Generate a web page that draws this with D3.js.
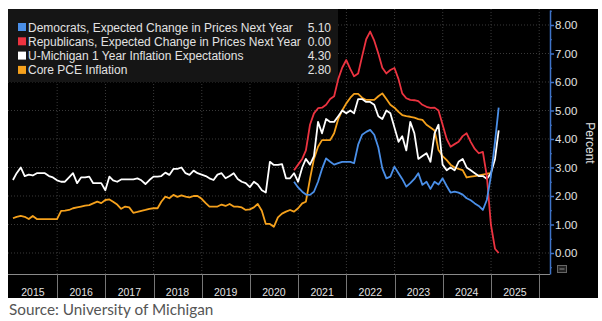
<!DOCTYPE html>
<html>
<head>
<meta charset="utf-8">
<script src="https://cdn.jsdelivr.net/npm/d3@7"></script>
<style>
  body { margin:0; background:#fff; }
  svg { display:block; font-family:"Liberation Sans", Arial, sans-serif; }
</style>
</head>
<body>
<svg width="602" height="321"></svg>
<script>

// monthly readings, first value = Jan 2015
const umich = [
  2.56, 2.8, 3.0, 2.7, 2.75, 2.72, 2.8, 2.8, 2.8, 2.7, 2.65, 2.55,      // 2015
  2.5, 2.5, 2.65, 2.8, 2.45, 2.65, 2.65, 2.68, 2.45, 2.45, 2.45, 2.2,    // 2016
  2.68, 2.55, 2.5, 2.58, 2.58, 2.58, 2.58, 2.62, 2.55, 2.42, 2.56, 2.68, // 2017
  2.68, 2.7, 2.82, 2.74, 2.95, 2.95, 3.0, 2.8, 2.74, 2.89, 2.8, 2.75,    // 2018
  2.7, 2.62, 2.56, 2.75, 2.8, 2.62, 2.7, 2.8, 2.6, 2.5, 2.45, 2.31,      // 2019
  2.5, 2.4, 2.2, 2.12, 3.2, 3.09, 3.09, 3.12, 2.62, 2.62, 2.8, 2.5,      // 2020
  3.0, 3.3, 3.1, 3.4, 4.6, 4.2, 4.7, 4.6, 4.6, 4.8, 5.0, 4.9,            // 2021
  5.0, 4.9, 5.4, 5.4, 5.3, 5.3, 5.2, 4.8, 4.7, 5.0, 4.9, 4.4,            // 2022
  3.9, 4.1, 3.6, 4.6, 4.2, 3.3, 3.4, 3.5, 3.2, 4.2, 4.5, 3.1,            // 2023
  2.9, 3.0, 2.9, 3.2, 3.3, 3.0, 2.9, 2.8, 2.7, 2.7, 2.6, 2.8,            // 2024
  3.3, 4.3                                                              // 2025
];

const corePce = [
  1.22, 1.27, 1.3, 1.27, 1.19, 1.3, 1.19, 1.19, 1.19, 1.19, 1.19, 1.19,  // 2015
  1.48, 1.49, 1.51, 1.57, 1.6, 1.63, 1.66, 1.68, 1.74, 1.8, 1.75, 1.86,  // 2016
  1.88, 1.8, 1.7, 1.55, 1.63, 1.6, 1.41, 1.44, 1.48, 1.51, 1.55, 1.57,   // 2017
  1.57, 1.8, 1.98, 1.92, 2.04, 1.97, 2.02, 1.98, 1.95, 2.0, 2.0, 1.9,    // 2018
  1.75, 1.63, 1.63, 1.63, 1.7, 1.65, 1.72, 1.63, 1.63, 1.6, 1.51, 1.53,  // 2019
  1.6, 1.72, 1.48, 1.02, 1.02, 0.92, 1.25, 1.38, 1.45, 1.51, 1.45, 1.57, // 2020
  1.74, 1.8, 2.6, 3.3, 3.73, 3.96, 3.96, 3.96, 4.2, 4.7, 5.0, 5.25,      // 2021
  5.45, 5.58, 5.58, 5.45, 5.37, 5.37, 5.37, 5.5, 5.6, 5.4, 5.2, 5.1,     // 2022
  4.95, 4.84, 4.8, 4.78, 4.75, 4.7, 4.67, 4.5, 4.4, 4.3, 3.61, 3.4,      // 2023
  3.26, 3.1, 3.0, 2.95, 2.91, 2.65, 2.68, 2.7, 2.72, 2.75, 2.78, 2.8     // 2024
];

// partisan readings start Nov 2020 (month 70)
const partisanStart = 70;
const democrats = [
  2.5, 2.3,                                                             // 2020
  2.15, 2.05, 2.04, 2.15, 2.5, 2.95, 3.32, 3.2, 3.1, 3.15, 3.2, 3.2,     // 2021
  3.2, 3.15, 3.8, 4.15, 4.25, 4.32, 4.15, 3.7, 2.97, 2.62, 2.68, 3.03,   // 2022
  2.8, 2.6, 2.33, 2.45, 2.6, 2.8, 2.39, 2.5, 2.25, 2.5, 2.4, 2.62,       // 2023
  2.35, 2.12, 2.15, 2.12, 2.05, 1.92, 1.85, 1.74, 1.65, 1.51, 1.86, 2.7, // 2024
  3.9, 5.1                                                              // 2025
];
const republicans = [
  2.9, 3.1,                                                             // 2020
  3.3, 3.6, 4.5, 4.9, 5.08, 5.1, 5.2, 5.4, 5.5, 6.1, 6.5, 6.77,          // 2021
  6.45, 6.2, 6.3, 6.9, 7.5, 7.77, 7.45, 7.0, 6.5, 6.3, 6.42, 6.49,       // 2022
  6.1, 5.6, 5.43, 5.37, 5.36, 5.33, 5.2, 5.13, 5.09, 5.1, 5.0, 4.5,      // 2023
  4.0, 3.73, 3.82, 3.9, 4.1, 4.2, 3.9, 3.65, 3.5, 3.55, 2.7, 1.0,        // 2024
  0.15, 0.0                                                             // 2025
];

const years = d3.range(2015, 2026);
const yTicks = d3.range(0, 9);
const yMinor = d3.range(-0.5, 9, 1);

const series = [
  {label:'Democrats, Expected Change in Prices Next Year', values:democrats, start:partisanStart, color:'#4a8fe8'},
  {label:'Republicans, Expected Change in Prices Next Year', values:republicans, start:partisanStart, color:'#ec3340'},
  {label:'U-Michigan 1 Year Inflation Expectations', values:umich, start:0, color:'#ffffff'},
  {label:'Core PCE Inflation', values:corePce, start:0, color:'#f5a11c'}
];

// month index -> end of that month
const monthEnd = m => new Date(2015, m + 1, 0);
const jan1 = yr => new Date(yr, 0, 1);

const svg = d3.select('svg');

const x = d3.scaleTime().domain([jan1(2015), jan1(2026)]).range([9, 539.2]);
const y = d3.scaleLinear().domain([-0.737, 8.526]).range([274, 10]);

// background
svg.append('rect').attr('x', 8).attr('y', 9).attr('width', 590).attr('height', 289).attr('fill', '#000');

// grid
const grid = svg.append('g').attr('stroke', '#3a3a3a').attr('stroke-dasharray', '1,2');
grid.selectAll('.h').data(yTicks).enter().append('line')
  .attr('x1', 8).attr('x2', 550).attr('y1', d => y(d)).attr('y2', d => y(d));
grid.selectAll('.v').data(years.slice(1).concat(2026)).enter().append('line')
  .attr('y1', 9).attr('y2', 274)
  .attr('x1', d => x(jan1(d))).attr('x2', d => x(jan1(d)));

// legend box sits behind the lines
svg.append('rect').attr('x', 8).attr('y', 9).attr('width', 330).attr('height', 73).attr('fill', '#151515');

// lines, last series drawn first
const line = d3.line().x(d => x(d.date)).y(d => y(d.v));
series.slice().reverse().forEach(s => {
  const pts = s.values.map((v, i) => ({date: monthEnd(s.start + i), v: v}));
  svg.append('path').datum(pts)
    .attr('d', line).attr('fill', 'none')
    .attr('stroke', s.color).attr('stroke-width', 1.8).attr('stroke-linejoin', 'round');
});

// legend entries
const leg = svg.append('g').selectAll('g').data(series).enter().append('g')
  .attr('transform', (d, i) => 'translate(0,' + (27 + i * 14.3) + ')');
leg.append('rect').attr('x', 18).attr('y', -4).attr('width', 8).attr('height', 8).attr('fill', d => d.color);
leg.append('text').attr('x', 28).attr('y', 4.5).attr('fill', '#e2e2e2').attr('font-size', 12).text(d => d.label);
leg.append('text').attr('x', 331).attr('y', 4.5).attr('text-anchor', 'end').attr('fill', '#e2e2e2')
  .attr('font-size', 12).text(d => d.values[d.values.length - 1].toFixed(2));

// right axis
const axisColor = '#3f73c8';
const yAxis = svg.append('g').attr('transform', 'translate(550,0)')
  .call(d3.axisRight(y).tickValues(yTicks).tickSize(4).tickSizeOuter(0).tickFormat(d3.format('.2f')));
yAxis.select('.domain').attr('stroke', axisColor).attr('stroke-width', 1.5);
yAxis.selectAll('.tick line').attr('stroke', axisColor).attr('stroke-width', 1.5);
yAxis.selectAll('.tick text').attr('fill', '#e2e2e2').attr('font-size', 11.5)
  .attr('font-family', '"Liberation Sans", Arial, sans-serif').attr('x', 5);
svg.append('g').attr('transform', 'translate(550,0)')
  .call(d3.axisRight(y).tickValues(yMinor).tickSize(2).tickFormat(''))
  .call(g => g.select('.domain').remove())
  .selectAll('.tick line').attr('stroke', axisColor);

svg.append('text').attr('transform', 'translate(586,143) rotate(90)')
  .attr('text-anchor', 'middle').attr('fill', '#e2e2e2').attr('font-size', 12).text('Percent');

// small zoom widget under the axis
svg.append('rect').attr('x', 557.5).attr('y', 265.5).attr('width', 9).attr('height', 7)
  .attr('fill', '#222').attr('stroke', '#666');
svg.append('line').attr('x1', 559.5).attr('x2', 564.5).attr('y1', 269).attr('y2', 269).attr('stroke', '#888');

// date band
svg.append('line').attr('x1', 8).attr('x2', 550).attr('y1', 274.5).attr('y2', 274.5).attr('stroke', '#8a8a8a');
svg.selectAll('.sep').data(years.slice(1).concat(2026)).enter().append('line')
  .attr('x1', d => Math.round(x(jan1(d))) + 0.5).attr('x2', d => Math.round(x(jan1(d))) + 0.5)
  .attr('y1', 274).attr('y2', 298).attr('stroke', '#777');
svg.selectAll('.yr').data(years).enter().append('text')
  .attr('x', d => x(new Date(d, 6, 1))).attr('y', 296).attr('text-anchor', 'middle')
  .attr('fill', '#e2e2e2').attr('font-size', 10.5).text(d => d);

svg.append('text').attr('x', 9).attr('y', 315).attr('fill', '#555')
  .attr('font-family', 'Lato, sans-serif').attr('font-size', 15.3).text('Source: University of Michigan');

</script>
</body>
</html>
